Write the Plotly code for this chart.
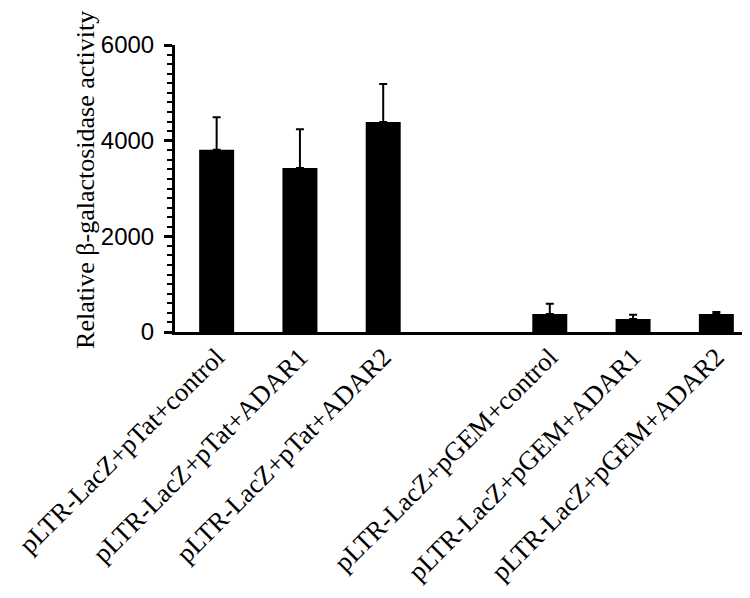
import plotly.graph_objects as go

categories = [
    "pLTR-LacZ+pTat+control",
    "pLTR-LacZ+pTat+ADAR1",
    "pLTR-LacZ+pTat+ADAR2",
    "pLTR-LacZ+pGEM+control",
    "pLTR-LacZ+pGEM+ADAR1",
    "pLTR-LacZ+pGEM+ADAR2",
]
positions = [0, 1, 2, 4, 5, 6]
values = [3810, 3430, 4390, 377, 272, 377]
errors = [678, 807, 797, 216, 91, 42]

fig = go.Figure()
fig.add_trace(go.Bar(
    x=positions, y=values, width=0.42,
    marker=dict(color="black", line=dict(width=0)),
    error_y=dict(type="data", array=errors, arrayminus=[0] * len(errors),
                 symmetric=False, color="black", thickness=2, width=4),
))

fig.update_layout(
    width=750, height=598,
    margin=dict(l=167, r=0, t=37, b=274),
    plot_bgcolor="white", paper_bgcolor="white",
    showlegend=False,
    xaxis=dict(
        range=[-0.5, 6.5], tickvals=positions, ticktext=categories,
        tickangle=-45, showline=True, linecolor="black", linewidth=3,
        ticks="", showgrid=False, zeroline=False, automargin=False,
        ticklabeloverflow="allow", ticklabelstandoff=-4,
        tickfont=dict(family="Liberation Serif", size=26.5, color="black"),
    ),
    yaxis=dict(
        range=[0, 6000], tick0=0, dtick=2000, showline=True, linecolor="black",
        linewidth=3, ticks="outside", ticklen=8, tickwidth=3, tickcolor="black",
        minor=dict(dtick=200, ticks="outside", ticklen=5, tickwidth=2, tickcolor="black"),
        showgrid=False, zeroline=False, ticklabelstandoff=5, automargin=False,
        tickfont=dict(family="Liberation Sans", size=24, color="black"),
    ),
    annotations=[dict(
        text="Relative β-galactosidase activity", textangle=-90,
        xref="paper", yref="paper", x=0, y=0.53, xshift=-89,
        xanchor="center", yanchor="middle", showarrow=False,
        font=dict(family="Liberation Serif", size=26, color="black"),
    )],
)

fig.write_html("out.html")
